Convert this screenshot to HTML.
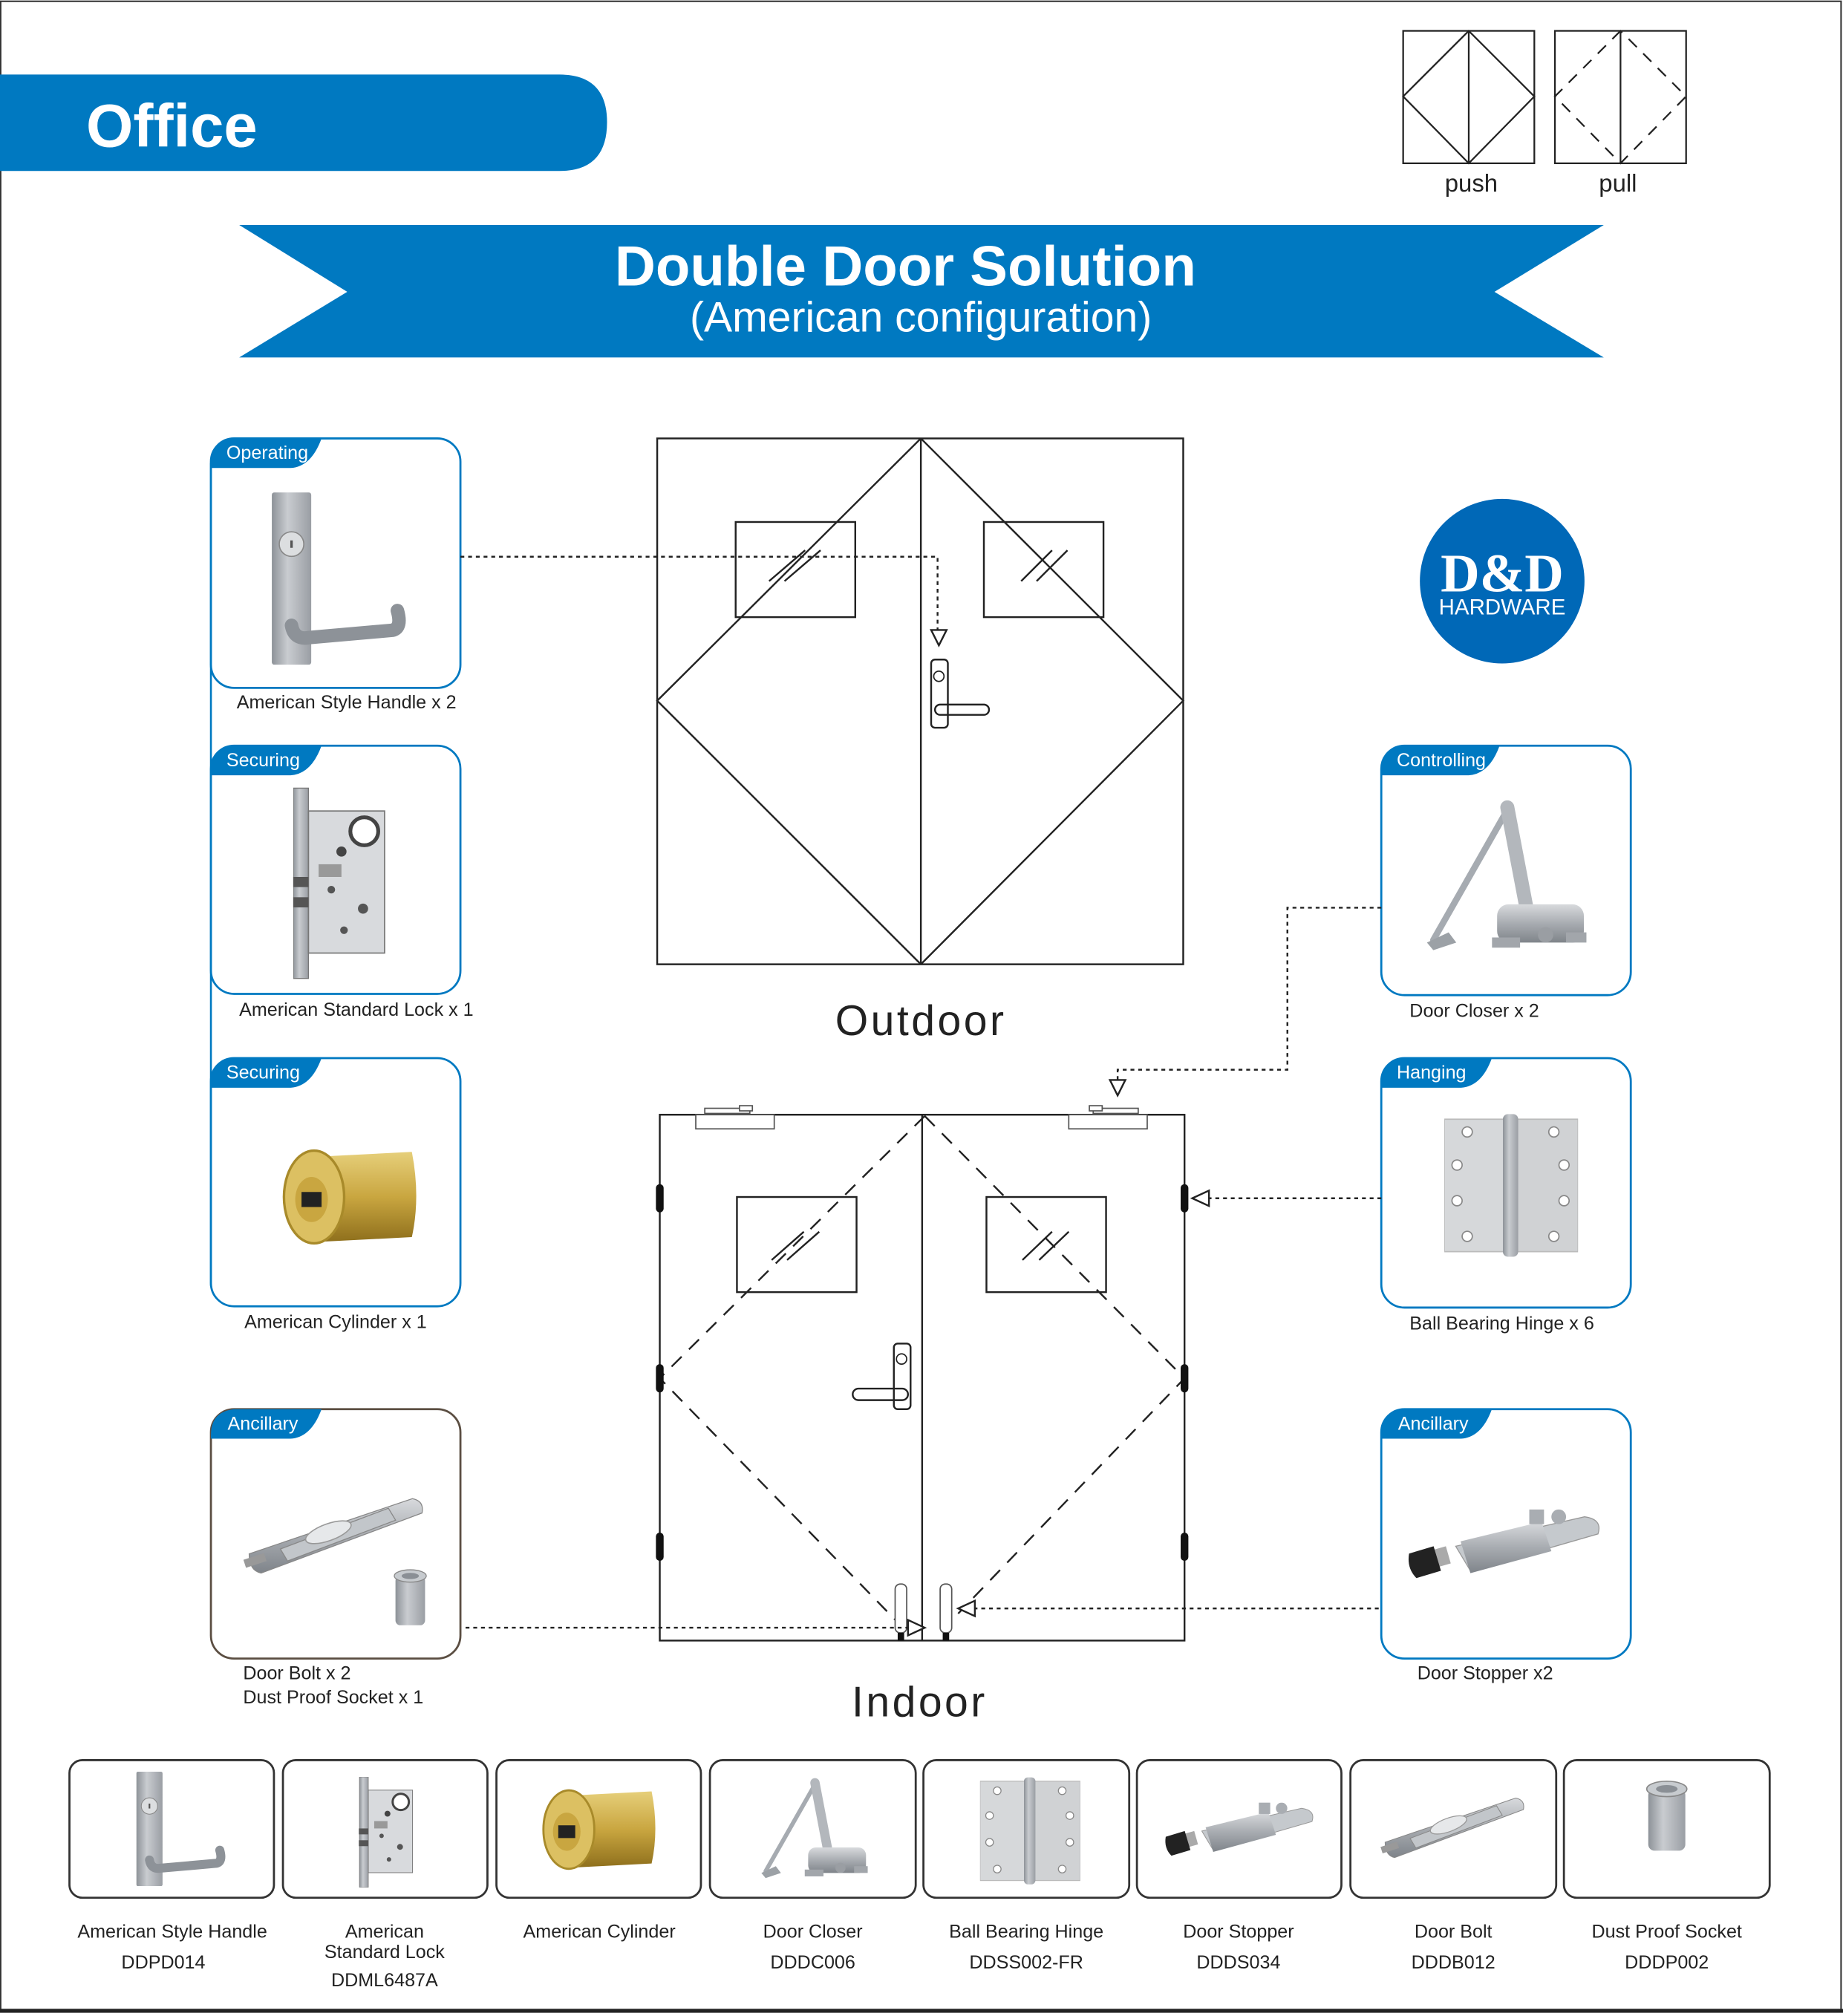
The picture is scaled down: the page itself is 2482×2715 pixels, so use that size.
<!DOCTYPE html>
<html><head><meta charset="utf-8"><style>
html,body{margin:0;padding:0;background:#fff}
svg{display:block}
text{font-family:"Liberation Sans",Arial,sans-serif}
</style></head><body>
<svg width="2482" height="2715" viewBox="0 0 1433 1568" preserveAspectRatio="none" xmlns="http://www.w3.org/2000/svg">
<defs>
<linearGradient id="met" x1="0" y1="0" x2="1" y2="0"><stop offset="0" stop-color="#8d9298"/><stop offset=".4" stop-color="#c9ccd0"/><stop offset="1" stop-color="#9a9ea4"/></linearGradient>
<linearGradient id="metv" x1="0" y1="0" x2="0" y2="1"><stop offset="0" stop-color="#d8dadd"/><stop offset=".5" stop-color="#a8acb1"/><stop offset="1" stop-color="#7f848a"/></linearGradient>
<linearGradient id="gold" x1="0" y1="0" x2="0" y2="1"><stop offset="0" stop-color="#e6cf7a"/><stop offset=".5" stop-color="#c9a640"/><stop offset="1" stop-color="#8e6f1c"/></linearGradient>
<symbol id="handle" viewBox="0 0 110 140">
<rect x="0" y="0" width="32" height="140" rx="2" fill="url(#met)"/>
<circle cx="16" cy="42" r="10" fill="#dcdee0" stroke="#888" stroke-width="1"/>
<rect x="15" y="39" width="2" height="6" fill="#555"/>
<path d="M16 108 Q18 120 30 118 L98 112 Q106 110 102 96" fill="none" stroke="#8d9298" stroke-width="11" stroke-linecap="round"/>
</symbol>
<symbol id="lock" viewBox="0 0 75 150">
<rect x="0" y="0" width="12" height="150" fill="url(#met)" stroke="#777" stroke-width=".8"/>
<rect x="12" y="18" width="60" height="112" fill="#d8dadd" stroke="#777" stroke-width="1"/>
<circle cx="56" cy="34" r="11" fill="#fff" stroke="#444" stroke-width="3"/>
<circle cx="38" cy="50" r="4" fill="#444"/><circle cx="30" cy="80" r="3" fill="#555"/><circle cx="55" cy="95" r="4" fill="#555"/><circle cx="40" cy="112" r="3" fill="#555"/>
<rect x="-2" y="70" width="14" height="8" fill="#555"/><rect x="-2" y="86" width="14" height="8" fill="#555"/>
<rect x="20" y="60" width="18" height="10" fill="#999"/>
</symbol>
<symbol id="cyl" viewBox="0 0 115 80">
<path d="M30 8 L108 4 Q115 40 108 72 L30 76 Z" fill="url(#gold)"/>
<ellipse cx="30" cy="40" rx="24" ry="37" fill="#dcc062" stroke="#a88a2a" stroke-width="2"/>
<ellipse cx="28" cy="42" rx="13" ry="18" fill="#c9a640"/>
<rect x="20" y="36" width="16" height="12" fill="#222"/>
</symbol>
<symbol id="closer" viewBox="0 0 130 125">
<path d="M8 110 L66 8" stroke="#a6abb1" stroke-width="5" stroke-linecap="round"/>
<path d="M3 112 L20 104 L26 112 L8 118Z" fill="#9ca1a6"/>
<path d="M66 6 L82 90" stroke="#b3b7bc" stroke-width="11" stroke-linecap="round"/>
<rect x="58" y="82" width="68" height="30" rx="9" fill="url(#metv)"/>
<rect x="54" y="108" width="22" height="8" fill="#a2a6ab"/><rect x="112" y="104" width="16" height="8" fill="#a2a6ab"/>
<circle cx="96" cy="106" r="6" fill="#9a9ea3"/>
</symbol>
<symbol id="hinge" viewBox="0 0 105 112">
<rect x="0" y="4" width="50" height="104" fill="#d6d8da" stroke="#bbb"/>
<rect x="55" y="4" width="50" height="104" fill="#d0d2d4" stroke="#bbb"/>
<rect x="46" y="0" width="12" height="112" rx="4" fill="url(#met)"/>
<g fill="#fff" stroke="#888" stroke-width="1">
<circle cx="18" cy="14" r="4"/><circle cx="10" cy="40" r="4"/><circle cx="10" cy="68" r="4"/><circle cx="18" cy="96" r="4"/>
<circle cx="86" cy="14" r="4"/><circle cx="94" cy="40" r="4"/><circle cx="94" cy="68" r="4"/><circle cx="86" cy="96" r="4"/></g>
</symbol>
<symbol id="bolt" viewBox="0 0 150 75">
<path d="M4 52 L140 6 Q150 8 148 18 L14 68 Q4 66 4 52Z" fill="url(#metv)" stroke="#888" stroke-width=".8"/>
<path d="M30 48 L120 14 L126 24 L36 58Z" fill="#c2c6ca" stroke="#888" stroke-width=".8"/>
<ellipse cx="70" cy="34" rx="20" ry="7" transform="rotate(-20 70 34)" fill="#e6e8ea" stroke="#999"/>
<rect x="0" y="54" width="18" height="7" fill="#999" transform="rotate(-18 9 58)"/>
</symbol>
<symbol id="stopper" viewBox="0 0 160 65">
<path d="M40 30 L145 6 Q160 8 156 20 L52 50Z" fill="#c5c9cd" stroke="#999" stroke-width=".8"/>
<path d="M44 26 L110 10 L118 34 L52 52Z" fill="url(#metv)"/>
<rect x="100" y="0" width="12" height="12" fill="#a9adb2"/><circle cx="124" cy="6" r="6" fill="#a9adb2"/>
<path d="M18 34 L32 30 L36 44 L22 48Z" fill="#aaa"/>
<path d="M2 36 L22 30 L28 50 L8 56 Q0 48 2 36Z" fill="#222"/>
</symbol>
<symbol id="socket" viewBox="0 0 30 48">
<rect x="3" y="6" width="24" height="40" rx="4" fill="url(#met)"/>
<ellipse cx="15" cy="6" rx="13" ry="5" fill="#c7cbcf" stroke="#888" stroke-width=".8"/>
<ellipse cx="15" cy="6" rx="7" ry="2.5" fill="#8a8f95"/>
</symbol>
<g id="tab"><path d="M0 20 Q0 2 18 0 L86 0 Q78 22 62 23 L0 23Z" fill="#0079c1"/></g>
<g id="tabw"><path d="M0 20 Q0 2 18 0 L92 0 Q84 22 68 23 L0 23Z" fill="#0079c1"/></g>
</defs>

<rect x="0.5" y="1" width="1431" height="1562" fill="none" stroke="#333" stroke-width="1.2"/>
<line x1="0" y1="1564" x2="1433" y2="1564" stroke="#222" stroke-width="3"/>

<path d="M0 58 L435 58 Q472 58 472 95 Q472 133 435 133 L0 133Z" fill="#0079c1"/>
<text x="67" y="114" font-size="47" font-weight="bold" fill="#fff">Office</text>

<g fill="none" stroke="#222" stroke-width="1.3">
<rect x="1091" y="24" width="102" height="103"/><path d="M1142 24 V127 M1142 24 L1091 75 L1142 127 L1193 75 Z"/>
<rect x="1209" y="24" width="102" height="103"/><line x1="1260" y1="24" x2="1260" y2="127"/>
<path d="M1260 24 L1209 75 L1260 127 L1311 75 Z" stroke-dasharray="9,7"/>
</g>
<text x="1144" y="149" font-size="19" text-anchor="middle" fill="#222">push</text>
<text x="1258" y="149" font-size="19" text-anchor="middle" fill="#222">pull</text>

<path d="M186 175 L1247 175 L1162 227 L1247 278 L186 278 L270 227Z" fill="#0079c1"/>
<text x="704" y="222" font-size="44" font-weight="bold" fill="#fff" text-anchor="middle">Double Door Solution</text>
<text x="716" y="258" font-size="33" fill="#fff" text-anchor="middle">(American configuration)</text>

<line x1="164" y1="360" x2="164" y2="1000" stroke="#0079c1" stroke-width="1.5"/>

<g fill="#fff" stroke-width="1.6">
<rect x="164" y="341" width="194" height="194" rx="18" stroke="#0079c1"/>
<rect x="164" y="580" width="194" height="193" rx="18" stroke="#0079c1"/>
<rect x="164" y="823" width="194" height="193" rx="18" stroke="#0079c1"/>
<rect x="164" y="1096" width="194" height="194" rx="18" stroke="#5b4e42"/>
<rect x="1074" y="580" width="194" height="194" rx="18" stroke="#0079c1"/>
<rect x="1074" y="823" width="194" height="194" rx="18" stroke="#0079c1"/>
<rect x="1074" y="1096" width="194" height="194" rx="18" stroke="#0079c1"/>
</g>
<use href="#tab" x="164" y="341"/><use href="#tab" x="164" y="580"/><use href="#tab" x="164" y="823"/><use href="#tab" x="164" y="1096"/>
<use href="#tabw" x="1074" y="580"/><use href="#tab" x="1074" y="823"/><use href="#tab" x="1074" y="1096"/>
<g font-size="14.5" fill="#fff">
<text x="176" y="357">Operating</text><text x="176" y="596">Securing</text><text x="176" y="839">Securing</text><text x="177" y="1112">Ancillary</text>
<text x="1086" y="596">Controlling</text><text x="1086" y="839">Hanging</text><text x="1087" y="1112">Ancillary</text>
</g>
<use href="#handle" x="211" y="383" width="106" height="134"/>
<use href="#lock" x="228" y="612" width="74" height="150"/>
<use href="#cyl" x="213" y="892" width="116" height="78"/>
<use href="#bolt" x="185" y="1160" width="150" height="70"/>
<use href="#socket" x="304" y="1220" width="30" height="46"/>
<use href="#closer" x="1106" y="622" width="130" height="124"/>
<use href="#hinge" x="1123" y="866" width="104" height="112"/>
<use href="#stopper" x="1090" y="1174" width="160" height="62"/>

<g font-size="14.5" fill="#222">
<text x="184" y="551">American Style Handle x 2</text>
<text x="186" y="790">American Standard Lock x 1</text>
<text x="190" y="1033">American Cylinder x 1</text>
<text x="189" y="1306">Door Bolt x 2</text>
<text x="189" y="1325">Dust Proof Socket x 1</text>
<text x="1096" y="791">Door Closer x 2</text>
<text x="1096" y="1034">Ball Bearing Hinge x 6</text>
<text x="1102" y="1306">Door Stopper x2</text>
</g>

<circle cx="1168" cy="452" r="64" fill="#0068b7"/>
<text x="1168" y="460" font-size="42" font-weight="bold" fill="#fff" text-anchor="middle" style="font-family:'Liberation Serif',serif">D&amp;D</text>
<text x="1168" y="478" font-size="17" fill="#fff" text-anchor="middle">HARDWARE</text>

<g fill="none" stroke="#222" stroke-width="1.4">
<rect x="511" y="341" width="409" height="409"/>
<line x1="716" y1="341" x2="716" y2="750"/>
<path d="M716 341 L511 545 L716 750 M716 341 L920 545 L716 750"/>
<rect x="572" y="406" width="93" height="74"/><rect x="765" y="406" width="93" height="74"/>
<path d="M598 452 L626 428 M610 452 L638 428 M794 452 L818 428 M806 452 L830 428"/>
<rect x="724" y="513" width="13" height="53" rx="3"/>
<rect x="727" y="548" width="42" height="8" rx="4"/>
<circle cx="730" cy="526" r="4" stroke-width="1"/>
</g>
<text x="716" y="805" font-size="33" fill="#222" text-anchor="middle" letter-spacing="2">Outdoor</text>

<g fill="none" stroke="#222" stroke-width="1.4">
<rect x="513" y="867" width="408" height="409"/>
<line x1="717" y1="867" x2="717" y2="1276"/>
<path d="M719 868 L513 1072 L706 1270 M719 868 L921 1072 L745 1255" stroke-dasharray="11,8"/>
<rect x="573" y="931" width="93" height="74"/><rect x="767" y="931" width="93" height="74"/>
<path d="M600 980 L625 958 M612 980 L637 958 M795 980 L818 958 M808 980 L831 958"/>
<rect x="695" y="1045" width="13" height="51" rx="3"/>
<rect x="663" y="1080" width="43" height="9" rx="4.5"/>
<circle cx="701" cy="1057" r="4" stroke-width="1"/>
</g>
<g fill="#fff" stroke="#555" stroke-width="1">
<rect x="541" y="867" width="61" height="11"/><rect x="548" y="862" width="35" height="4"/><rect x="575" y="860" width="10" height="4"/>
<rect x="831" y="867" width="61" height="11"/><rect x="850" y="862" width="35" height="4"/><rect x="847" y="860" width="10" height="4"/>
<rect x="696" y="1232" width="9" height="38" rx="4"/><rect x="731" y="1232" width="9" height="38" rx="4"/>
</g>
<g fill="#111">
<rect x="510" y="921" width="6" height="22" rx="3"/><rect x="510" y="1061" width="6" height="22" rx="3"/><rect x="510" y="1192" width="6" height="22" rx="3"/>
<rect x="918" y="921" width="6" height="22" rx="3"/><rect x="918" y="1061" width="6" height="22" rx="3"/><rect x="918" y="1192" width="6" height="22" rx="3"/>
<rect x="698" y="1270" width="5" height="6"/><rect x="733" y="1270" width="5" height="6"/>
</g>
<text x="715" y="1335" font-size="33" fill="#222" text-anchor="middle" letter-spacing="2">Indoor</text>

<g fill="none" stroke="#222" stroke-width="1.4" stroke-dasharray="3,3">
<path d="M358 433 L729 433 L729 490"/>
<path d="M1074 706 L1001 706 L1001 832 L869 832 L869 840"/>
<path d="M1074 932 L940 932"/>
<path d="M362 1266 L708 1266"/>
<path d="M1072 1251 L758 1251"/>
</g>
<g fill="#fff" stroke="#222" stroke-width="1.4">
<path d="M724 490 L736 490 L730 502Z"/>
<path d="M863 840 L875 840 L869 852Z"/>
<path d="M940 926 L940 938 L927 932Z"/>
<path d="M706 1260 L706 1272 L719 1266Z"/>
<path d="M758 1245 L758 1257 L745 1251Z"/>
</g>

<g fill="#fff" stroke="#333" stroke-width="1.6">
<rect x="54" y="1369" width="159" height="107" rx="10"/>
<rect x="220" y="1369" width="159" height="107" rx="10"/>
<rect x="386" y="1369" width="159" height="107" rx="10"/>
<rect x="552" y="1369" width="160" height="107" rx="10"/>
<rect x="718" y="1369" width="160" height="107" rx="10"/>
<rect x="884" y="1369" width="159" height="107" rx="10"/>
<rect x="1050" y="1369" width="160" height="107" rx="10"/>
<rect x="1216" y="1369" width="160" height="107" rx="10"/>
</g>
<use href="#handle" x="106" y="1378" width="70" height="89"/>
<use href="#lock" x="279" y="1382" width="44" height="86"/>
<use href="#cyl" x="416" y="1390" width="98" height="66"/>
<use href="#closer" x="590" y="1382" width="86" height="84"/>
<use href="#hinge" x="762" y="1382" width="78" height="84"/>
<use href="#stopper" x="904" y="1402" width="120" height="48"/>
<use href="#bolt" x="1070" y="1394" width="120" height="56"/>
<use href="#socket" x="1278" y="1384" width="36" height="58"/>
<g font-size="14.5" fill="#222" text-anchor="middle">
<text x="134" y="1507">American Style Handle</text><text x="127" y="1531">DDPD014</text>
<text x="299" y="1507">American</text><text x="299" y="1523">Standard Lock</text><text x="299" y="1545">DDML6487A</text>
<text x="466" y="1507">American Cylinder</text>
<text x="632" y="1507">Door Closer</text><text x="632" y="1531">DDDC006</text>
<text x="798" y="1507">Ball Bearing Hinge</text><text x="798" y="1531">DDSS002-FR</text>
<text x="963" y="1507">Door Stopper</text><text x="963" y="1531">DDDS034</text>
<text x="1130" y="1507">Door Bolt</text><text x="1130" y="1531">DDDB012</text>
<text x="1296" y="1507">Dust Proof Socket</text><text x="1296" y="1531">DDDP002</text>
</g>
</svg>
</body></html>
